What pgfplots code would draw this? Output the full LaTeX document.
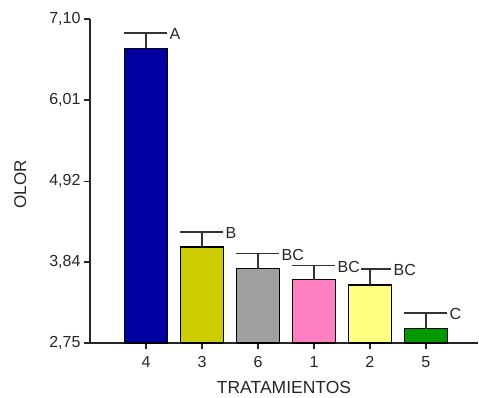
\documentclass[border=0pt]{standalone}
\usepackage{pgfplots}
\pgfplotsset{compat=1.18}
\usepackage{fontspec}
\setmainfont{Liberation Sans}

\definecolor{cNavy}{RGB}{0,0,160}
\definecolor{cOlive}{RGB}{204,204,0}
\definecolor{cGray}{RGB}{160,160,160}
\definecolor{cPink}{RGB}{255,128,192}
\definecolor{cLYellow}{RGB}{255,255,128}
\definecolor{cGreen}{RGB}{0,153,0}

\begin{document}
\begin{tikzpicture}
\begin{axis}[
  scale only axis,
  width=388pt, height=324pt,
  at={(0,0)}, anchor=south west,
  xmin=0, xmax=6.93,
  ymin=2.75, ymax=7.10,
  axis x line*=bottom, axis y line*=left,
  axis line style={line width=1.6pt, black!85},
  tick style={line width=1.6pt, black!85},
  tick align=outside,
  major tick length=6pt,
  xtick={1,2,3,4,5,6},
  xticklabels={4,3,6,1,2,5},
  xticklabel style={yshift=-4pt},
  ytick={2.75,3.84,4.92,6.01,7.10},
  yticklabel style={/pgf/number format/.cd, fixed, fixed zerofill, precision=2, use comma, assume math mode=true},
  ticklabel style={font=\fontsize{16}{16}\selectfont, text=black!85},
  xlabel={TRATAMIENTOS},
  ylabel={OLOR},
  every axis x label/.style={at={(axis description cs:0.5,0)}, anchor=center, yshift=-44pt, font=\fontsize{17.5}{18}\selectfont, text=black!85},
  every axis y label/.style={at={(axis description cs:-0.18,0.49)}, rotate=90, anchor=center, font=\fontsize{17}{18}\selectfont, text=black!85},
  clip=false,
  ybar, bar width=43pt, bar shift=0pt,
  every axis plot/.append style={draw=black, line width=1.3pt},
  error bars/y dir=plus, error bars/y explicit,
  error bars/error bar style={line width=1.6pt, black!80},
  error bars/error mark options={line width=1.6pt, black!80, mark size=21.5pt, rotate=90},
]
% mean and upper error for each treatment
\addplot[fill=cNavy]    coordinates {(1,6.705) +- (0,0.205)};
\addplot[fill=cOlive]   coordinates {(2,4.04) +- (0,0.20)};
\addplot[fill=cGray]    coordinates {(3,3.75) +- (0,0.20)};
\addplot[fill=cPink]    coordinates {(4,3.60) +- (0,0.19)};
\addplot[fill=cLYellow] coordinates {(5,3.53) +- (0,0.21)};
\addplot[fill=cGreen]   coordinates {(6,2.94) +- (0,0.21)};
% significance letters beside the caps
\addplot[draw=none, only marks, mark=none, ybar=0pt, bar width=0pt,
  nodes near coords, point meta=explicit symbolic,
  every node near coord/.style={anchor=west, fill=white, inner sep=1.5pt, yshift=-1pt,
    font=\fontsize{16}{16}\selectfont, text=black!85}]
  table[meta=lab] {
x     y     lab
1.384 6.91  A
2.384 4.24  B
3.384 3.95  BC
4.384 3.79  BC
5.384 3.74  BC
6.384 3.15  C
};
\end{axis}
\useasboundingbox (-90pt,-55pt) rectangle (389pt,343pt);
\end{tikzpicture}
\end{document}
